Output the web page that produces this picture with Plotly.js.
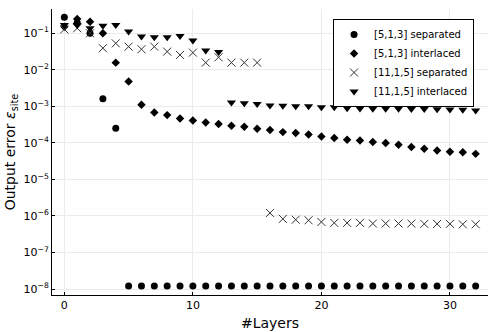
<!DOCTYPE html>
<html>
<head>
<meta charset="utf-8">
<script src="https://cdn.plot.ly/plotly-3.0.1.min.js"></script>
<style>
  html, body { margin: 0; padding: 0; background: #fff; }
  #plot { width: 498px; height: 332px; }
</style>
</head>
<body>
<div id="plot"></div>
<script>
// =========================
// Data
// =========================
const layers = Array.from({ length: 33 }, (_, i) => i);

const sep513 = [0.273, 0.195, 0.10, 1.6e-3, 2.5e-4,
  1.2e-8, 1.2e-8, 1.2e-8, 1.2e-8, 1.2e-8, 1.2e-8, 1.2e-8, 1.2e-8, 1.2e-8, 1.2e-8,
  1.2e-8, 1.2e-8, 1.2e-8, 1.2e-8, 1.2e-8, 1.2e-8, 1.2e-8, 1.2e-8, 1.2e-8, 1.2e-8,
  1.2e-8, 1.2e-8, 1.2e-8, 1.2e-8, 1.2e-8, 1.2e-8, 1.2e-8, 1.2e-8];

const int513 = [0.15, 0.245, 0.207, 0.10, 0.0157, 4.77e-3, 1.1e-3, 6.8e-4, 5.75e-4,
  4.65e-4, 4.1e-4, 3.6e-4, 3.3e-4, 2.93e-4, 2.75e-4, 2.43e-4, 2.24e-4, 1.97e-4,
  1.85e-4, 1.70e-4, 1.50e-4, 1.35e-4, 1.22e-4, 1.16e-4, 1.05e-4, 9.9e-5, 8.9e-5,
  7.7e-5, 6.9e-5, 6.2e-5, 5.7e-5, 5.5e-5, 5.0e-5];

const sep1115 = [0.128, 0.137, 0.10, 0.039, 0.053, 0.043, 0.0366, 0.043, 0.0314,
  0.0255, 0.0295, 0.0157, 0.022, 0.0157, 0.0157, 0.0157, 1.21e-6, 8.3e-7, 7.9e-7,
  7.6e-7, 6.85e-7, 6.45e-7, 6.45e-7, 6.45e-7, 6.2e-7, 6.2e-7, 6.2e-7, 6.2e-7,
  6.05e-7, 6.05e-7, 6.05e-7, 5.9e-7, 5.9e-7];

const int1115 = [0.169, 0.169, 0.137, 0.161, 0.169, 0.111, 0.081, 0.078, 0.078,
  0.084, 0.063, 0.0335, 0.0308, 1.27e-3, 1.22e-3, 1.15e-3, 1.05e-3, 1.03e-3,
  1.01e-3, 1.01e-3, 9.5e-4, 9.5e-4, 8.9e-4, 8.7e-4, 8.55e-4, 8.55e-4, 8.55e-4,
  8.4e-4, 8.4e-4, 8.3e-4, 8.2e-4, 8.0e-4, 7.7e-4];

const seriesNames = ['[5,1,3] separated', '[5,1,3] interlaced', '[11,1,5] separated', '[11,1,5] interlaced'];

const yTickVals = [1e-8, 1e-7, 1e-6, 1e-5, 1e-4, 1e-3, 1e-2, 1e-1];
const yTickText = ['10<sup>−8</sup>', '10<sup>−7</sup>', '10<sup>−6</sup>', '10<sup>−5</sup>',
  '10<sup>−4</sup>', '10<sup>−3</sup>', '10<sup>−2</sup>', '10<sup>−1</sup>'];
const xTickVals = [0, 10, 20, 30];

// =========================
// Plot
// =========================
const font = 'DejaVu Sans, sans-serif';

const data = [
  {
    x: layers, y: sep513, name: seriesNames[0], type: 'scatter', mode: 'markers',
    marker: { symbol: 'circle', size: 7, color: '#000' }
  },
  {
    x: layers, y: int513, name: seriesNames[1], type: 'scatter', mode: 'markers',
    marker: { symbol: 'diamond', size: 6.5, color: '#000' }
  },
  {
    x: layers, y: sep1115, name: seriesNames[2], type: 'scatter', mode: 'markers',
    marker: { symbol: 'x-thin-open', size: 8, color: '#333', line: { width: 1, color: '#333' } }
  },
  {
    x: layers, y: int1115, name: seriesNames[3], type: 'scatter', mode: 'markers',
    marker: { symbol: 'triangle-down', size: 8, color: '#000' }
  }
];

const layout = {
  width: 498,
  height: 332,
  margin: { l: 52, r: 10, t: 9, b: 37 },
  paper_bgcolor: '#fff',
  plot_bgcolor: '#fff',
  font: { family: font, size: 11, color: '#000' },
  showlegend: true,
  legend: {
    x: 0.968, y: 0.965, xanchor: 'right', yanchor: 'top',
    bordercolor: '#000', borderwidth: 1, bgcolor: '#fff',
    font: { family: font, size: 10 },
    tracegroupgap: 0
  },
  xaxis: {
    range: [-0.96, 32.96],
    tickvals: xTickVals,
    ticks: 'inside', ticklen: 3, tickcolor: '#000',
    showgrid: true, gridcolor: '#ebebeb', gridwidth: 1,
    zeroline: false,
    showline: true, linecolor: '#000', linewidth: 1,
    title: { text: '#Layers', font: { family: font, size: 14 }, standoff: 6 }
  },
  yaxis: {
    type: 'log',
    range: [-8.164, -0.336],
    tickvals: yTickVals,
    ticktext: yTickText,
    ticks: 'inside', ticklen: 3, tickcolor: '#000',
    showgrid: true, gridcolor: '#ebebeb', gridwidth: 1,
    zeroline: false,
    showline: true, linecolor: '#000', linewidth: 1,
    title: { text: 'Output error <i>ε</i><sub>site</sub>', font: { family: font, size: 14 }, standoff: 4 }
  }
};

Plotly.newPlot('plot', data, layout, { staticPlot: true, displayModeBar: false });
</script>
</body>
</html>
